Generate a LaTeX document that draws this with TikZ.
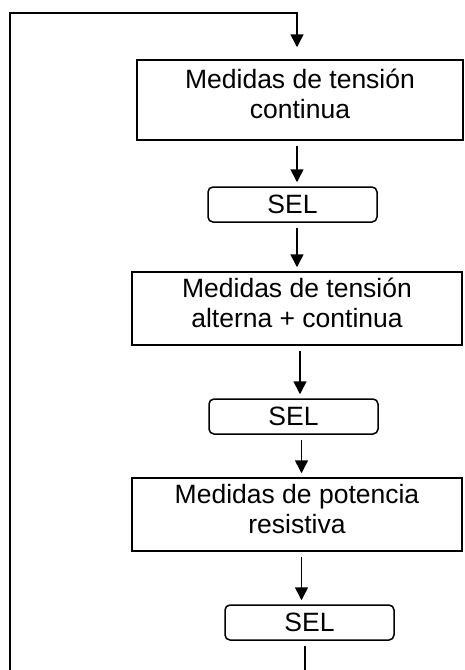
\documentclass[tikz,border=0pt]{standalone}
\usepackage{fontspec}
\setmainfont{Liberation Sans}
\usetikzlibrary{arrows.meta}
\begin{document}
\begin{tikzpicture}[x=1pt, y=-1pt, >={Triangle[length=13pt, width=13pt]}, line width=1.5pt,
		caja/.style={draw, align=center, minimum width=326pt, minimum height=73pt, inner sep=0pt, text depth=12pt,
			font=\fontsize{26.5}{30}\selectfont},
		sel/.style={draw, rounded corners=5pt, minimum width=169pt, minimum height=35pt, inner sep=0pt,
			font=\fontsize{26.5}{30}\selectfont},
		flecha/.style={->, shorten <=5pt, shorten >=4pt}]
			\useasboundingbox (0, 0) rectangle (464, 670);
			\node[caja, minimum height=80pt] (tcont) at (300, 100) {Medidas de tensión\\continua};
			\node[sel] (sel1) at (292.5, 204.5) {SEL};
			\node[caja, minimum width=330pt] (tmixta) at (297, 308.5) {Medidas de tensión\\alterna + continua};
			\node[sel] (sel2) at (293.5, 416.5) {SEL};
			\node[caja, minimum width=330pt] (potres) at (297, 514.5) {Medidas de potencia\\resistiva};
			\node[sel] (sel3) at (309.5, 622.5) {SEL};
			\coordinate (ejeA) at (297, 13);
			\coordinate (ejeB) at (300, 0);
			\coordinate (ejeC) at (301.5, 0);
			\coordinate (ejeD) at (305, 670);
			\coordinate (izq) at (10, 670);
			\draw[->, shorten >=12pt] (izq) |- (ejeA) -- (tcont.north -| ejeA);
			\draw[flecha] (tcont.south -| ejeA) -- (sel1.north -| ejeA);
			\draw[flecha] (sel1.south -| ejeA) -- (tmixta.north -| ejeA);
			\draw[flecha] (tmixta.south -| ejeB) -- (sel2.north -| ejeB);
			\draw[flecha] (sel2.south -| ejeC) -- (potres.north -| ejeC);
			\draw[flecha] (potres.south -| ejeC) -- (sel3.north -| ejeC);
			\draw[shorten <=5pt] (sel3.south -| ejeD) -- (ejeD);
		\end{tikzpicture}
\end{document}
